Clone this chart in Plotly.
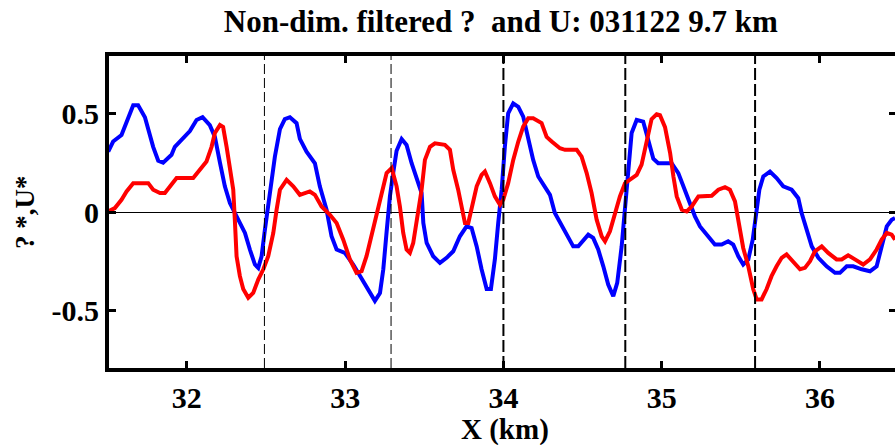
import plotly.graph_objects as go

# Along-track position (km) and non-dimensional filtered fields
x_blue = [31.503, 31.534, 31.587, 31.619, 31.661, 31.692, 31.735, 31.787, 31.819, 31.850,
          31.903, 31.924, 31.956, 32.019, 32.061, 32.099, 32.145, 32.177, 32.209, 32.240,
          32.272, 32.303, 32.335, 32.367, 32.398, 32.430, 32.451, 32.472, 32.493, 32.514,
          32.535, 32.556, 32.588, 32.619, 32.651, 32.693, 32.714, 32.756, 32.809, 32.840,
          32.883, 32.914, 32.946, 32.998, 33.051, 33.093, 33.136, 33.188, 33.220, 33.241,
          33.262, 33.283, 33.304, 33.325, 33.357, 33.388, 33.420, 33.452, 33.483, 33.494,
          33.515, 33.556, 33.599, 33.641, 33.683, 33.725, 33.767, 33.799, 33.831, 33.862,
          33.894, 33.921, 33.946, 33.967, 33.989, 34.009, 34.030, 34.062, 34.094, 34.125,
          34.157, 34.188, 34.220, 34.262, 34.294, 34.325, 34.368, 34.409, 34.441, 34.473,
          34.504, 34.536, 34.567, 34.599, 34.631, 34.662, 34.694, 34.719, 34.747, 34.768,
          34.789, 34.810, 34.842, 34.883, 34.915, 34.947, 34.978, 35.063, 35.105, 35.136,
          35.178, 35.210, 35.242, 35.284, 35.336, 35.379, 35.420, 35.452, 35.484, 35.515,
          35.547, 35.575, 35.596, 35.617, 35.642, 35.684, 35.726, 35.768, 35.821, 35.863,
          35.884, 35.916, 35.948, 35.990, 36.042, 36.095, 36.126, 36.169, 36.210, 36.264,
          36.316, 36.358, 36.390, 36.422, 36.453, 36.474]
theta_star = [0.306, 0.357, 0.390, 0.450, 0.540, 0.540, 0.480, 0.330, 0.260, 0.250,
              0.290, 0.330, 0.357, 0.410, 0.466, 0.480, 0.440, 0.380, 0.250, 0.130,
              0.045, -0.005, -0.055, -0.106, -0.190, -0.266, -0.283, -0.224, -0.090, 0.045,
              0.163, 0.280, 0.420, 0.470, 0.480, 0.450, 0.370, 0.306, 0.247, 0.130,
              0.010, -0.123, -0.190, -0.207, -0.266, -0.325, -0.384, -0.450, -0.410, -0.290,
              -0.100, 0.080, 0.200, 0.310, 0.370, 0.340, 0.247, 0.163, 0.096, -0.056,
              -0.157, -0.224, -0.258, -0.232, -0.199, -0.123, -0.073, -0.081, -0.174, -0.290,
              -0.390, -0.390, -0.240, -0.056, 0.113, 0.330, 0.500, 0.550, 0.533, 0.483,
              0.373, 0.264, 0.180, 0.130, 0.087, -0.005, -0.064, -0.123, -0.174, -0.174,
              -0.148, -0.115, -0.131, -0.190, -0.275, -0.367, -0.426, -0.359, -0.174, 0.028,
              0.247, 0.400, 0.466, 0.458, 0.365, 0.270, 0.247, 0.247, 0.197, 0.130,
              0.045, -0.022, -0.073, -0.115, -0.165, -0.165, -0.148, -0.165, -0.224, -0.266,
              -0.240, -0.140, -0.005, 0.113, 0.180, 0.205, 0.172, 0.130, 0.113, 0.070,
              -0.005, -0.090, -0.174, -0.232, -0.275, -0.308, -0.308, -0.275, -0.275, -0.290,
              -0.300, -0.275, -0.174, -0.073, -0.039, -0.030]

x_red = [31.503, 31.545, 31.587, 31.619, 31.661, 31.756, 31.787, 31.830, 31.861, 31.893,
         31.935, 32.040, 32.082, 32.124, 32.156, 32.177, 32.209, 32.229, 32.251, 32.272,
         32.293, 32.303, 32.314, 32.335, 32.356, 32.388, 32.419, 32.451, 32.483, 32.514,
         32.546, 32.567, 32.588, 32.630, 32.672, 32.714, 32.777, 32.809, 32.851, 32.904,
         32.946, 32.988, 33.030, 33.072, 33.104, 33.135, 33.167, 33.199, 33.230, 33.262,
         33.294, 33.325, 33.346, 33.367, 33.388, 33.409, 33.430, 33.462, 33.483, 33.504,
         33.536, 33.567, 33.630, 33.662, 33.683, 33.714, 33.736, 33.757, 33.778, 33.799,
         33.831, 33.862, 33.883, 33.915, 33.946, 33.978, 33.999, 34.030, 34.062, 34.094,
         34.125, 34.157, 34.188, 34.241, 34.273, 34.305, 34.357, 34.389, 34.463, 34.494,
         34.526, 34.557, 34.589, 34.621, 34.642, 34.673, 34.705, 34.736, 34.768, 34.799,
         34.842, 34.873, 34.905, 34.936, 34.968, 34.989, 35.021, 35.053, 35.074, 35.095,
         35.127, 35.158, 35.190, 35.232, 35.316, 35.358, 35.400, 35.431, 35.463, 35.484,
         35.515, 35.547, 35.578, 35.600, 35.631, 35.663, 35.694, 35.726, 35.758, 35.789,
         35.831, 35.874, 35.905, 35.937, 35.968, 36.011, 36.052, 36.105, 36.137, 36.178,
         36.221, 36.273, 36.316, 36.358, 36.390, 36.422, 36.453, 36.474]
u_star = [0.003, 0.020, 0.062, 0.104, 0.146, 0.146, 0.113, 0.096, 0.096, 0.130,
          0.172, 0.172, 0.214, 0.256, 0.330, 0.400, 0.440, 0.430, 0.330, 0.214,
          0.113, -0.039, -0.224, -0.325, -0.390, -0.434, -0.410, -0.342, -0.290, -0.224,
          -0.106, 0.012, 0.113, 0.163, 0.130, 0.087, 0.104, 0.087, 0.028, -0.014,
          -0.056, -0.140, -0.240, -0.308, -0.300, -0.224, -0.123, -0.022, 0.096, 0.197,
          0.222, 0.130, 0.028, -0.106, -0.190, -0.207, -0.157, -0.005, 0.113, 0.264,
          0.330, 0.348, 0.340, 0.315, 0.214, 0.113, 0.028, -0.056, -0.056, 0.012,
          0.130, 0.188, 0.205, 0.146, 0.079, 0.037, 0.062, 0.146, 0.264, 0.357,
          0.432, 0.475, 0.475, 0.450, 0.380, 0.357, 0.323, 0.315, 0.315, 0.280,
          0.197, 0.096, -0.039, -0.123, -0.148, -0.098, -0.005, 0.079, 0.146, 0.163,
          0.188, 0.240, 0.365, 0.470, 0.495, 0.490, 0.430, 0.300, 0.180, 0.079,
          0.012, 0.003, 0.028, 0.079, 0.082, 0.113, 0.126, 0.113, 0.054, -0.047,
          -0.182, -0.275, -0.390, -0.443, -0.443, -0.390, -0.325, -0.275, -0.232, -0.215,
          -0.249, -0.290, -0.283, -0.249, -0.199, -0.174, -0.207, -0.240, -0.240, -0.219,
          -0.240, -0.266, -0.240, -0.190, -0.140, -0.106, -0.115, -0.140]

# Marked positions (km): thin dashed then heavy dashed
marks_thin = [32.49, 33.29]
marks_thick = [34.0, 34.77, 35.59]

x_ticks = [32, 33, 34, 35, 36]
y_ticks = [-0.5, 0, 0.5]
y_ticktext = ["-0.5", "0", "0.5"]

FONT = "Liberation Serif"

fig = go.Figure()
fig.add_trace(go.Scatter(x=x_blue, y=theta_star, mode="lines",
                         line=dict(color="#0000ff", width=4), showlegend=False))
fig.add_trace(go.Scatter(x=x_red, y=u_star, mode="lines",
                         line=dict(color="#ff0000", width=4), showlegend=False))
# right-hand tick marks only (no border line on that side)
fig.add_trace(go.Scatter(x=[None], y=[None], yaxis="y2", showlegend=False))

for xm in marks_thin:
    fig.add_vline(x=xm, line=dict(color="black", width=1, dash="10px,4px"), layer="above")
for xm in marks_thick:
    fig.add_vline(x=xm, line=dict(color="black", width=2, dash="12px,4px"), layer="above")

fig.update_layout(
    width=895, height=445,
    margin=dict(l=109, r=0, t=56, b=77),
    paper_bgcolor="white", plot_bgcolor="white",
    font=dict(family=FONT, color="black"),
    title=dict(text="<b>Non-dim. filtered ?\u00a0 and U: 031122 9.7 km</b>",
               x=0.5596, xanchor="center", y=0.952, yanchor="middle",
               font=dict(family=FONT, size=31, color="black")),
    xaxis=dict(range=[31.508, 36.474], tickvals=x_ticks, ticks="inside", ticklen=7,
               tickwidth=2.5, tickcolor="black", showline=True, linewidth=4,
               linecolor="black", mirror="ticks", showgrid=False, zeroline=False,
               tickfont=dict(family=FONT, size=30, weight="bold")),
    yaxis=dict(range=[-0.79, 0.79], tickvals=y_ticks, ticktext=y_ticktext,
               ticks="inside", ticklen=7, tickwidth=3, tickcolor="black",
               showline=True, linewidth=4, linecolor="black", mirror=False,
               showgrid=False, zeroline=True, zerolinecolor="black", zerolinewidth=1,
               tickfont=dict(family=FONT, size=30, weight="bold")),
    yaxis2=dict(range=[-0.79, 0.79], overlaying="y", side="right", tickvals=y_ticks,
                ticks="inside", ticklen=6, tickwidth=3, tickcolor="black",
                showticklabels=False, showline=False, showgrid=False, zeroline=False),
    annotations=[
        dict(text="<b>X (km)</b>", xref="paper", yref="paper", x=0.5035, y=-0.198,
             xanchor="center", yanchor="middle", showarrow=False,
             font=dict(family=FONT, size=29, color="black")),
        dict(text="<b>? *,U*</b>", xref="paper", yref="paper", x=-0.1069, y=0.5,
             xanchor="center", yanchor="middle", textangle=-90, showarrow=False,
             font=dict(family=FONT, size=27, color="black")),
    ],
)

fig.write_html("out.html")
